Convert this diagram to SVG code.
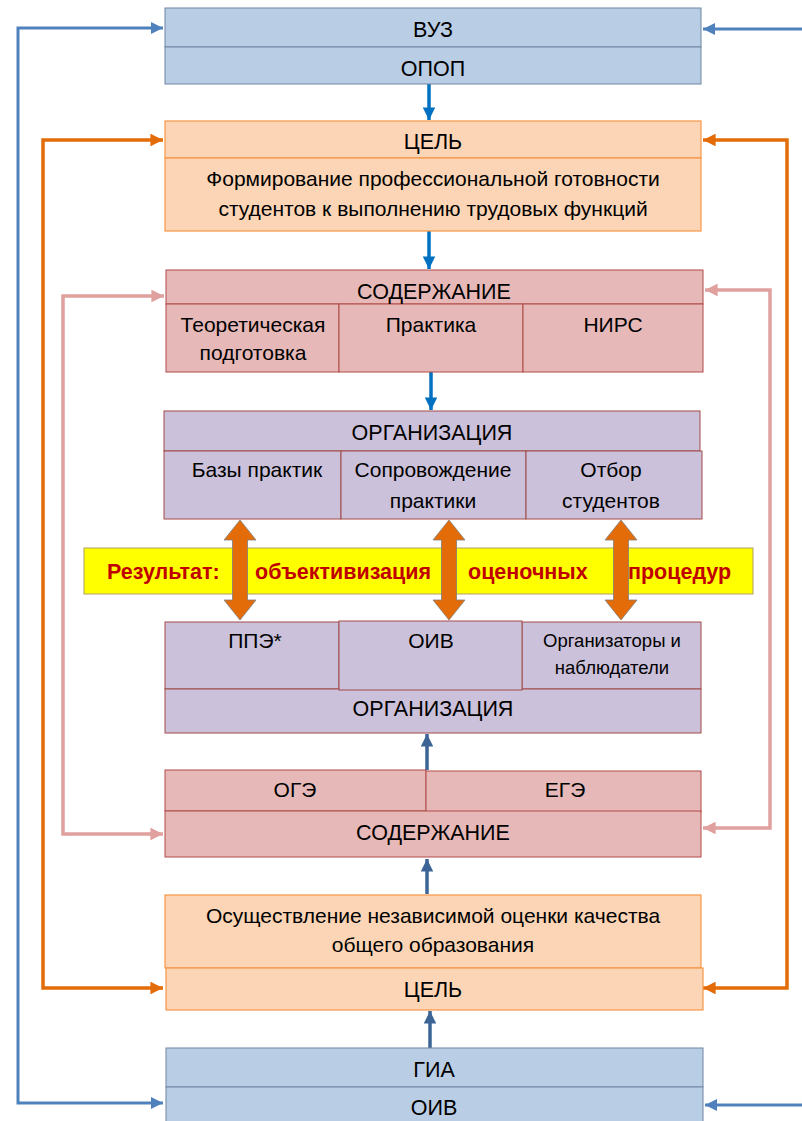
<svg xmlns="http://www.w3.org/2000/svg" width="802" height="1121" viewBox="0 0 802 1121">
<defs>
<style>
.t{font-family:"Liberation Sans","Noto Sans",Arial,sans-serif;font-size:21px;fill:#000;text-anchor:middle}
.h{font-size:21.5px}
.s{font-size:18.5px}
.r{font-family:"Liberation Sans",Arial,sans-serif;font-size:21.5px;font-weight:bold;fill:#c00000}
.blue{fill:#b9cde5;stroke:#6f85a3;stroke-width:1}
.peach{fill:#fbd5b5;stroke:#f79646;stroke-width:1.2}
.pink{fill:#e6b9b8;stroke:#b04a48;stroke-width:1}
.purp{fill:#ccc1da;stroke:#a04a48;stroke-width:1}
.cb{fill:none;stroke:#4f81bd;stroke-width:3}
.cb2{fill:none;stroke:#0070c0;stroke-width:3.5}
.cb3{fill:none;stroke:#3c6596;stroke-width:3.5}
.co{fill:none;stroke:#e36c09;stroke-width:3.5}
.cp{fill:none;stroke:#e0a09e;stroke-width:3.5}
.dbl{fill:#e36c09;stroke:#7f7f7f;stroke-width:0.8}
</style>
<marker id="mb" viewBox="0 0 10 10" refX="10" refY="5" markerWidth="4" markerHeight="4" orient="auto-start-reverse" markerUnits="strokeWidth"><path d="M0,0L10,5L0,10z" fill="#4f81bd"/></marker>
<marker id="mb2" viewBox="0 0 10 10" refX="10" refY="5" markerWidth="3.6" markerHeight="3.6" orient="auto" markerUnits="strokeWidth"><path d="M0,0L10,5L0,10z" fill="#0070c0"/></marker>
<marker id="mb3" viewBox="0 0 10 10" refX="10" refY="5" markerWidth="3.6" markerHeight="3.6" orient="auto" markerUnits="strokeWidth"><path d="M0,0L10,5L0,10z" fill="#3c6596"/></marker>
<marker id="mo" viewBox="0 0 10 10" refX="10" refY="5" markerWidth="3.6" markerHeight="3.6" orient="auto-start-reverse" markerUnits="strokeWidth"><path d="M0,0L10,5L0,10z" fill="#e36c09"/></marker>
<marker id="mp" viewBox="0 0 10 10" refX="10" refY="5" markerWidth="3.6" markerHeight="3.6" orient="auto-start-reverse" markerUnits="strokeWidth"><path d="M0,0L10,5L0,10z" fill="#e0a09e"/></marker>
</defs>
<rect width="802" height="1121" fill="#fff"/>

<g id="connectors">
<polyline class="cb" points="163,28 18,28 18,1103 163,1103" marker-start="url(#mb)" marker-end="url(#mb)"/>
<line class="cb" x1="802" y1="29" x2="703" y2="29" marker-end="url(#mb)"/>
<line class="cb" x1="802" y1="1105" x2="705" y2="1105" marker-end="url(#mb)"/>
<polyline class="co" points="163,140 43,140 43,988 163,988" marker-start="url(#mo)" marker-end="url(#mo)"/>
<polyline class="co" points="703,140 787,140 787,988 703,988" marker-start="url(#mo)" marker-end="url(#mo)"/>
<polyline class="cp" points="164,296 63,296 63,834 163,834" marker-start="url(#mp)" marker-end="url(#mp)"/>
<polyline class="cp" points="705,290 770,290 770,828 703,828" marker-start="url(#mp)" marker-end="url(#mp)"/>
<line class="cb2" x1="429" y1="84" x2="429" y2="120" marker-end="url(#mb2)"/>
<line class="cb2" x1="429" y1="231" x2="429" y2="269" marker-end="url(#mb2)"/>
<line class="cb2" x1="431" y1="372" x2="431" y2="410" marker-end="url(#mb2)"/>
<line class="cb3" x1="427" y1="770" x2="427" y2="734" marker-end="url(#mb3)"/>
<line class="cb3" x1="427" y1="894" x2="427" y2="859" marker-end="url(#mb3)"/>
<line class="cb3" x1="430" y1="1048" x2="430" y2="1011" marker-end="url(#mb3)"/>
</g>

<g id="vuz">
<rect class="blue" x="165" y="8" width="536" height="39"/>
<rect class="blue" x="165" y="47" width="536" height="37"/>
<text class="t h" x="433" y="37">ВУЗ</text>
<text class="t h" x="433" y="76">ОПОП</text>
</g>

<g id="goal-top">
<rect class="peach" x="165" y="121" width="536" height="37"/>
<rect class="peach" x="165" y="158" width="536" height="73"/>
<text class="t h" x="433" y="149">ЦЕЛЬ</text>
<text class="t" x="433" y="186">Формирование профессиональной готовности</text>
<text class="t" x="433" y="216">студентов к выполнению трудовых функций</text>
</g>

<g id="content-top">
<rect class="pink" x="166" y="270" width="537" height="34"/>
<rect class="pink" x="166" y="304" width="173" height="68"/>
<rect class="pink" x="339" y="304" width="184" height="68"/>
<rect class="pink" x="523" y="304" width="180" height="68"/>
<text class="t h" x="434" y="299">СОДЕРЖАНИЕ</text>
<text class="t" x="253" y="332">Теоретическая</text>
<text class="t" x="253" y="360">подготовка</text>
<text class="t" x="431" y="332">Практика</text>
<text class="t" x="613" y="332">НИРС</text>
</g>

<g id="org-top">
<rect class="purp" x="164" y="411" width="536" height="40"/>
<rect class="purp" x="164" y="451" width="177" height="68"/>
<rect class="purp" x="341" y="451" width="185" height="68"/>
<rect class="purp" x="526" y="451" width="176" height="68"/>
<text class="t h" x="432" y="440">ОРГАНИЗАЦИЯ</text>
<text class="t" x="257" y="477">Базы практик</text>
<text class="t" x="433" y="477">Сопровождение</text>
<text class="t" x="433" y="508">практики</text>
<text class="t" x="611" y="477">Отбор</text>
<text class="t" x="611" y="508">студентов</text>
</g>

<g id="result">
<rect x="84" y="548" width="669" height="46" fill="#ffff00" stroke="#b0a060" stroke-width="1"/>
<text class="r" x="107" y="579">Результат:</text>
<text class="r" x="255" y="579">объективизация</text>
<text class="r" x="468" y="579">оценочных</text>
<text class="r" x="628" y="579">процедур</text>
</g>

<g id="double-arrows">
<polygon class="dbl" points="240,520 256,540 247.5,540 247.5,600 256,600 240,620 224,600 232.5,600 232.5,540 224,540"/>
<polygon class="dbl" points="449,520 465,540 456.5,540 456.5,600 465,600 449,620 433,600 441.5,600 441.5,540 433,540"/>
<polygon class="dbl" points="621,520 637,540 628.5,540 628.5,600 637,600 621,620 605,600 613.5,600 613.5,540 605,540"/>
</g>

<g id="org-bottom">
<rect class="purp" x="165" y="622" width="174" height="67"/>
<rect class="purp" x="522" y="622" width="179" height="67"/>
<rect class="purp" x="165" y="689" width="536" height="44"/>
<rect class="purp" x="339" y="621" width="183" height="69"/>
<text class="t" x="255" y="648">ППЭ*</text>
<text class="t" x="431" y="648">ОИВ</text>
<text class="t s" x="612" y="647">Организаторы и</text>
<text class="t s" x="612" y="674">наблюдатели</text>
<text class="t h" x="433" y="716">ОРГАНИЗАЦИЯ</text>
</g>

<g id="content-bottom">
<rect class="pink" x="165" y="770" width="261" height="41"/>
<rect class="pink" x="426" y="771" width="275" height="41"/>
<rect class="pink" x="165" y="811" width="536" height="46"/>
<text class="t" x="295" y="797">ОГЭ</text>
<text class="t" x="565" y="797">ЕГЭ</text>
<text class="t h" x="433" y="840">СОДЕРЖАНИЕ</text>
</g>

<g id="goal-bottom">
<rect class="peach" x="165" y="895" width="536" height="73"/>
<rect class="peach" x="166" y="968" width="537" height="42"/>
<text class="t" x="433" y="923">Осуществление независимой оценки качества</text>
<text class="t" x="433" y="952">общего образования</text>
<text class="t h" x="433" y="997">ЦЕЛЬ</text>
</g>

<g id="gia">
<rect class="blue" x="166" y="1048" width="537" height="39"/>
<rect class="blue" x="166" y="1087" width="537" height="40"/>
<text class="t h" x="434" y="1077">ГИА</text>
<text class="t h" x="434" y="1115">ОИВ</text>
</g>
</svg>
